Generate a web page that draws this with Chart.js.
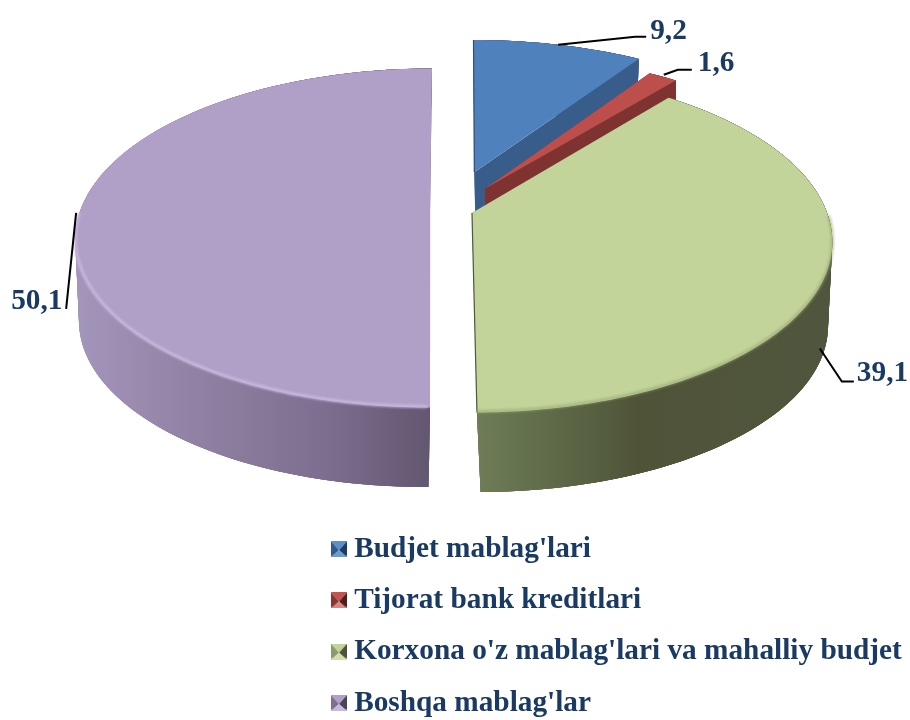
<!DOCTYPE html>
<html><head><meta charset="utf-8">
<style>html,body{margin:0;padding:0;background:#fff}canvas{display:block;filter:blur(.35px)}</style>
<script src="https://cdn.jsdelivr.net/npm/chart.js@4"></script>
</head><body><canvas id="c" width="910" height="720"></canvas>
<script>
const categories = ["Budjet mablag'lari","Tijorat bank kreditlari","Korxona o'z mablag'lari va mahalliy budjet","Boshqa mablag'lar"];
const values = [9.2,1.6,39.1,50.1];
const topColors = ['#4F81BD','#BC4F4B','#C2D49A','#B09FC6'];
const FONT = '"Liberation Serif"';
const FONT_SIZE = 29.3;
const TEXT = '#1A3A63';
const A = 0.163;
// per-slice projected ellipses: u = top face, l = bottom face
const geom = [
 {u:{cx:474.5,cy:198,rx:348,ry:158,s:1},l:{cx:476,cy:266,rx:340,ry:155,s:1}},
 {u:{cx:485,cy:215,rx:347,ry:161,s:0},l:{cx:485,cy:240,rx:347,ry:161,s:0}},
 {u:{cx:472.3,cy:241,rx:360,ry:171.5,s:2},l:{cx:476,cy:325,rx:352,ry:167,s:2}},
 {u:{cx:429.7,cy:238,rx:354.5,ry:169.5,s:-2.3},l:{cx:428,cy:320,rx:349,ry:167,s:-2}}
];
const wallStops = [
 [[0,'#385D8A'],[1,'#385D8A']],
 [[0,'#7F3331'],[1,'#7F3331']],
 [[0,'#6E7D57'],[0.2,'#5F6B49'],[0.45,'#4F5439'],[1,'#50563D']],
 [[0,'#A495BB'],[0.3,'#9383A6'],[0.7,'#7D6E8F'],[1,'#625670']]
];
const rimColors = [null,null,'rgba(150,165,115,.55)','rgba(206,191,232,.7)'];
const edgeColors = ['#2F4F78',null,'#4F5A3A',null];
const drawOrder = [0,1,3,2];
// leader-line points relative to the slice's mid-angle anchor
const leaders = [
 {face:'u',start:[0,0],pts:[[77,-8],[88,-8]],text:[92,-6]},
 {face:'u',start:[1,-2],pts:[[15,-7],[29,-7]],text:[35,-6]},
 {face:'l',start:[-3,-6],pts:[[19,27],[31,27]],text:[34,27]},
 {face:'u',start:[-4,2],pts:[[-14,98]],text:[-69,98]}
];
function proj(e,a){ // a: library angle in radians (top is -PI/2)
  const t=a+Math.PI/2, u=Math.sin(t), v=Math.cos(t), d=1+A*v;
  const up=u*Math.sqrt(1-A*A)/d, vp=(v+A)/d;
  return [e.cx+e.rx*up-e.s*vp, e.cy-e.ry*vp];
}
function apex(e){return [e.cx-e.s*A, e.cy-e.ry*A];}
function arcPts(e,a0,a1){const n=Math.max(2,Math.ceil((a1-a0)*60)),p=[];for(let i=0;i<=n;i++)p.push(proj(e,a0+(a1-a0)*i/n));return p;}
function poly(ctx,p,close){ctx.beginPath();p.forEach((q,i)=>i?ctx.lineTo(q[0],q[1]):ctx.moveTo(q[0],q[1]));if(close)ctx.closePath();}
const plugin3d={
 id:'pie3d',
 afterLayout(chart){
  const l=chart.legend;const w=l.width,h=l.height;
  l.left=316.5;l.right=316.5+w;l.top=512.5;l.bottom=512.5+h;
 },
 beforeDatasetDraw(chart,args){
  const ctx=chart.ctx,arcs=chart.getDatasetMeta(args.index).data;
  ctx.save();
  drawOrder.forEach(i=>{
   const arc=arcs[i],g=geom[i],a0=arc.startAngle,a1=arc.endAngle;
   const up=arcPts(g.u,a0,a1),lo=arcPts(g.l,a0,a1);
   const au=apex(g.u),al=apex(g.l);
   // walls: overlapping quads so no seams show
   const xs=up.concat(lo).map(q=>q[0]);const grad=ctx.createLinearGradient(Math.min(...xs),0,Math.max(...xs),0);
   wallStops[i].forEach(s=>grad.addColorStop(s[0],s[1]));
   ctx.fillStyle=grad;
   poly(ctx,up.concat(lo.slice().reverse()),true);ctx.fill();
   for(let k=0;k<up.length-1;k++){
    const n=Math.min(k+3,up.length-1);
    poly(ctx,[up[k],up[n],lo[n],lo[k]],true);ctx.fill();
   }
   poly(ctx,[au,up[0],lo[0],al],true);ctx.fill();
   poly(ctx,[au,up[up.length-1],lo[lo.length-1],al],true);ctx.fill();
   // bevel rim on the front edge (soft, under the top face edge)
   ctx.fillStyle=arc.options.backgroundColor;
   poly(ctx,[au].concat(up),true);ctx.fill();
   if(edgeColors[i]){
    ctx.strokeStyle=edgeColors[i];ctx.lineWidth=1.2;
    poly(ctx,i===0?[au,up[0]]:[au,up[up.length-1]],false);ctx.stroke();
   }
   if(rimColors[i]){
    const b0=i===3?Math.PI/2:0.02,b1=i===3?Math.PI-0.02:Math.PI/2;
    ctx.save();ctx.filter='blur(1px)';
    ctx.strokeStyle=rimColors[i];ctx.lineJoin='round';
    const rim=arcPts(g.u,Math.max(a0,b0),Math.min(a1,b1)).map(q=>[q[0],q[1]-1]);
    ctx.lineWidth=3.5;poly(ctx,rim,false);ctx.stroke();
    ctx.restore();
   }
  });
  // leader lines and value labels
  ctx.textBaseline='alphabetic';ctx.textAlign='left';
  ctx.font='bold '+FONT_SIZE+'px '+FONT;
  arcs.forEach((arc,i)=>{
   const L=leaders[i],mid=(arc.startAngle+arc.endAngle)/2,p=proj(geom[i][L.face],mid);
   ctx.strokeStyle='#000';ctx.lineWidth=2;
   poly(ctx,[[p[0]+L.start[0],p[1]+L.start[1]]].concat(L.pts.map(q=>[p[0]+q[0],p[1]+q[1]])),false);ctx.stroke();
   ctx.fillStyle=TEXT;
   ctx.fillText(String(values[i]).replace('.',','),p[0]+L.text[0],p[1]+L.text[1]);
  });
  ctx.restore();
  return false;
 }
};
function marker(top,left,right,bottom){
  const m=document.createElement('canvas');m.width=16;m.height=16;const x=m.getContext('2d');
  const tri=(c,pts)=>{x.fillStyle=c;poly(x,pts,true);x.fill();};
  tri(top,[[0,0],[16,0],[8,9]]);
  tri(left,[[0,0],[8,9],[0,16]]);
  tri(right,[[16,0],[8,9],[16,16]]);
  tri(bottom,[[0,16],[8,9],[16,16]]);
  x.fillStyle=bottom;x.fillRect(0,14.5,16,1.5);
  return m;
}
const markerTop=['#5A8FCB','#C4524F','#C2D49A','#B09FC6'];
const markerLeft=['#30598C','#8A3432','#8A9A6C','#7E7094'];
const markerRight=['#1C3D63','#4E1D1C','#4F5439','#4B4258'];
const markerBottom=['#6C9BD2','#D98583','#CFDFAE','#C7B8DD'];
const markers=topColors.map((c,i)=>marker(markerTop[i],markerLeft[i],markerRight[i],markerBottom[i]));
new Chart(document.getElementById('c'),{
 type:'pie',
 plugins:[plugin3d],
 data:{labels:categories,datasets:[{data:values,backgroundColor:topColors,borderWidth:0}]},
 options:{
  responsive:false,animation:false,rotation:0,
  plugins:{
   tooltip:{enabled:false},
   legend:{position:'chartArea',align:'start',
    labels:{usePointStyle:true,pointStyleWidth:1,padding:22,color:TEXT,
     font:{family:FONT,size:FONT_SIZE,weight:'bold'},
     generateLabels(ch){return categories.map((t,i)=>({text:t,pointStyle:markers[i],fontColor:TEXT,hidden:false,index:i,lineWidth:0,strokeStyle:'transparent',fillStyle:topColors[i]}));}
    }}
  }
 }
});
</script></body></html>
